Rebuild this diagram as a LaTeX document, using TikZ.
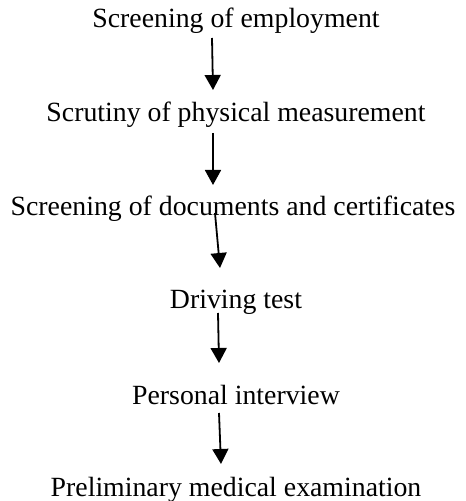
\documentclass[tikz,border=0pt]{standalone}
\usepackage{fontspec}
\setmainfont{Liberation Serif}
\usetikzlibrary{arrows.meta}
\begin{document}
\begin{tikzpicture}[x=1pt,y=1pt,
  stage/.style={anchor=base,inner sep=0pt,font=\fontsize{27.8}{32}\selectfont},
  flow/.style={line width=1.8pt,-{Triangle[width=16pt,length=15pt]}}]
\useasboundingbox (0,0) rectangle (466,501);
% stages, one baseline every ~94pt
\node[stage] (s1) at (236,473) {Screening of employment};
\node[stage] (s2) at (236,379) {Scrutiny of physical measurement};
\node[stage] (s3) at (233,285) {Screening of documents and certificates};
\node[stage] (s4) at (236,192) {Driving test};
\node[stage] (s5) at (236,96)  {Personal interview};
\node[stage] (s6) at (236,5)   {Preliminary medical examination};
% arrows between consecutive stages
\draw[flow] ([shift={(-24,-10)}]s1.base) -- ([shift={(-23,32)}]s2.base);
\draw[flow] ([shift={(-23,-11)}]s2.base) -- ([shift={(-20,31)}]s3.base);
\draw[flow] ([shift={(-18,3)}]s3.base) -- ([shift={(-16,41)}]s4.base);
\draw[flow] ([shift={(-18,-4)}]s4.base) -- ([shift={(-17,42)}]s5.base);
\draw[flow] ([shift={(-17,-8)}]s5.base) -- ([shift={(-15,32)}]s6.base);
\end{tikzpicture}
\end{document}
